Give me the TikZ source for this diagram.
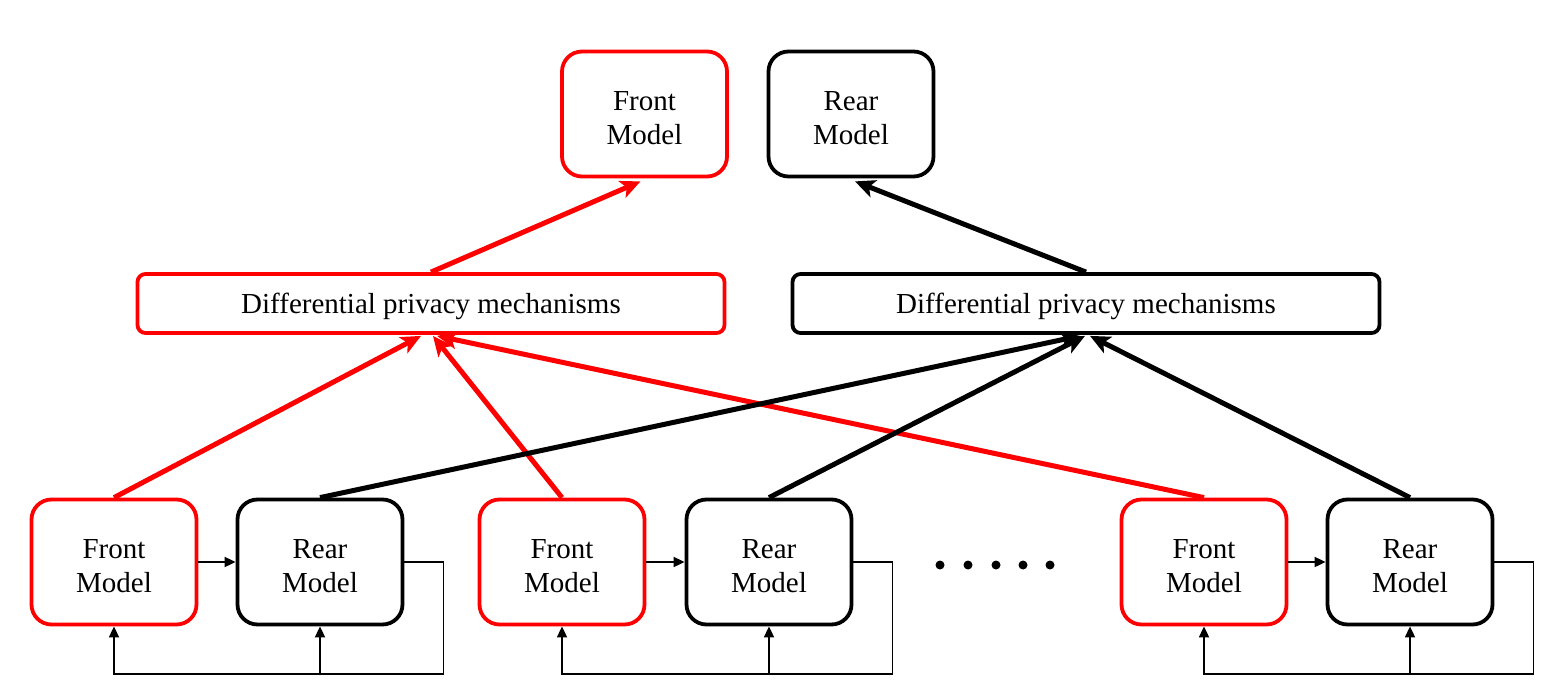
\documentclass[tikz,border=0pt]{standalone}
\usepackage{fontspec}
\setmainfont{Liberation Serif}
\usetikzlibrary{arrows.meta}
\newcommand{\topstrut}{\rule{0pt}{27pt}}
\newcommand{\dpstrut}{\rule{0pt}{27pt}}
\begin{document}
\begin{tikzpicture}[x=1pt,y=-1pt,
  modelbox/.style={draw, line width=3.8pt, rounded corners=20pt, minimum width=165pt, minimum height=125pt, align=center, inner sep=0pt, font=\fontsize{29}{34}\selectfont},
  dpbox/.style={draw, line width=3.8pt, rounded corners=8pt, minimum width=587pt, minimum height=59pt, inner sep=0pt, font=\fontsize{29}{34}\selectfont},
  bigarrow/.style={line width=5pt, -{Stealth[length=20pt,width=18pt,inset=5pt]}},
  thinarrow/.style={line width=1.8pt, -{Triangle[length=11pt,width=10pt]}},
  dot/.style={circle, fill, inner sep=0pt, minimum size=9pt}
]
\useasboundingbox (0,0) rectangle (1554,700);
% top
\node[modelbox, red] (TF) at (644.5,114) {\textcolor{black}{\topstrut Front}\\\textcolor{black}{Model}};
\node[modelbox] (TR) at (851,114) {\topstrut Rear\\Model};
\node[dpbox, red] (DL) at (431,303.5) {\textcolor{black}{\dpstrut Differential privacy mechanisms}};
\node[dpbox] (DR) at (1086,303.5) {\dpstrut Differential privacy mechanisms};
% bottom
\node[modelbox, red] (F1) at (114,562) {\textcolor{black}{\topstrut Front}\\\textcolor{black}{Model}};
\node[modelbox] (R1) at (320,562) {\topstrut Rear\\Model};
\node[modelbox, red] (F2) at (562,562) {\textcolor{black}{\topstrut Front}\\\textcolor{black}{Model}};
\node[modelbox] (R2) at (769,562) {\topstrut Rear\\Model};
\node[modelbox, red] (F3) at (1204,562) {\textcolor{black}{\topstrut Front}\\\textcolor{black}{Model}};
\node[modelbox] (R3) at (1410,562) {\topstrut Rear\\Model};
% dots
\foreach \i/\xx in {1/940,2/968,3/996,4/1023,5/1050} \node[dot] (d\i) at (\xx,565) {};
% top arrows
\draw[bigarrow, red] (DL.north) -- ([xshift=-4pt,yshift=-3pt]TF.south);
\draw[bigarrow] (DR.north) -- ([xshift=4pt,yshift=-3pt]TR.south);
% bottom thick arrows
\draw[bigarrow, red] (F1.north) -- ([xshift=-10pt,yshift=-1pt]DL.south);
\draw[bigarrow, red] (F2.north) -- ([xshift=2pt,yshift=-1pt]DL.south);
\draw[bigarrow, red] (F3.north) -- ([xshift=6pt,yshift=-1pt]DL.south);
\draw[bigarrow] (R1.north) -- ([xshift=-6pt,yshift=-1pt]DR.south);
\draw[bigarrow] (R2.north) -- ([xshift=-1pt,yshift=-1pt]DR.south);
\draw[bigarrow] (R3.north) -- ([xshift=4pt,yshift=-1pt]DR.south);
% loops
\foreach \f/\r in {F1/R1,F2/R2,F3/R3}{
  \draw[thinarrow] (\f.east) -- (\r.west);
  \coordinate (\r c1) at ([xshift=39pt]\r.east);
  \coordinate (\r c2) at ([yshift=-112pt]\r c1);
  \coordinate (\r c3) at (\f.south |- \r c2);
  \coordinate (\r c4) at (\r.south |- \r c2);
  \draw[thinarrow] (\r.east) -- (\r c1) -- (\r c2) -- (\r c3) -- (\f.south);
  \draw[thinarrow] (\r c4) -- (\r.south);
}
\end{tikzpicture}
\end{document}
